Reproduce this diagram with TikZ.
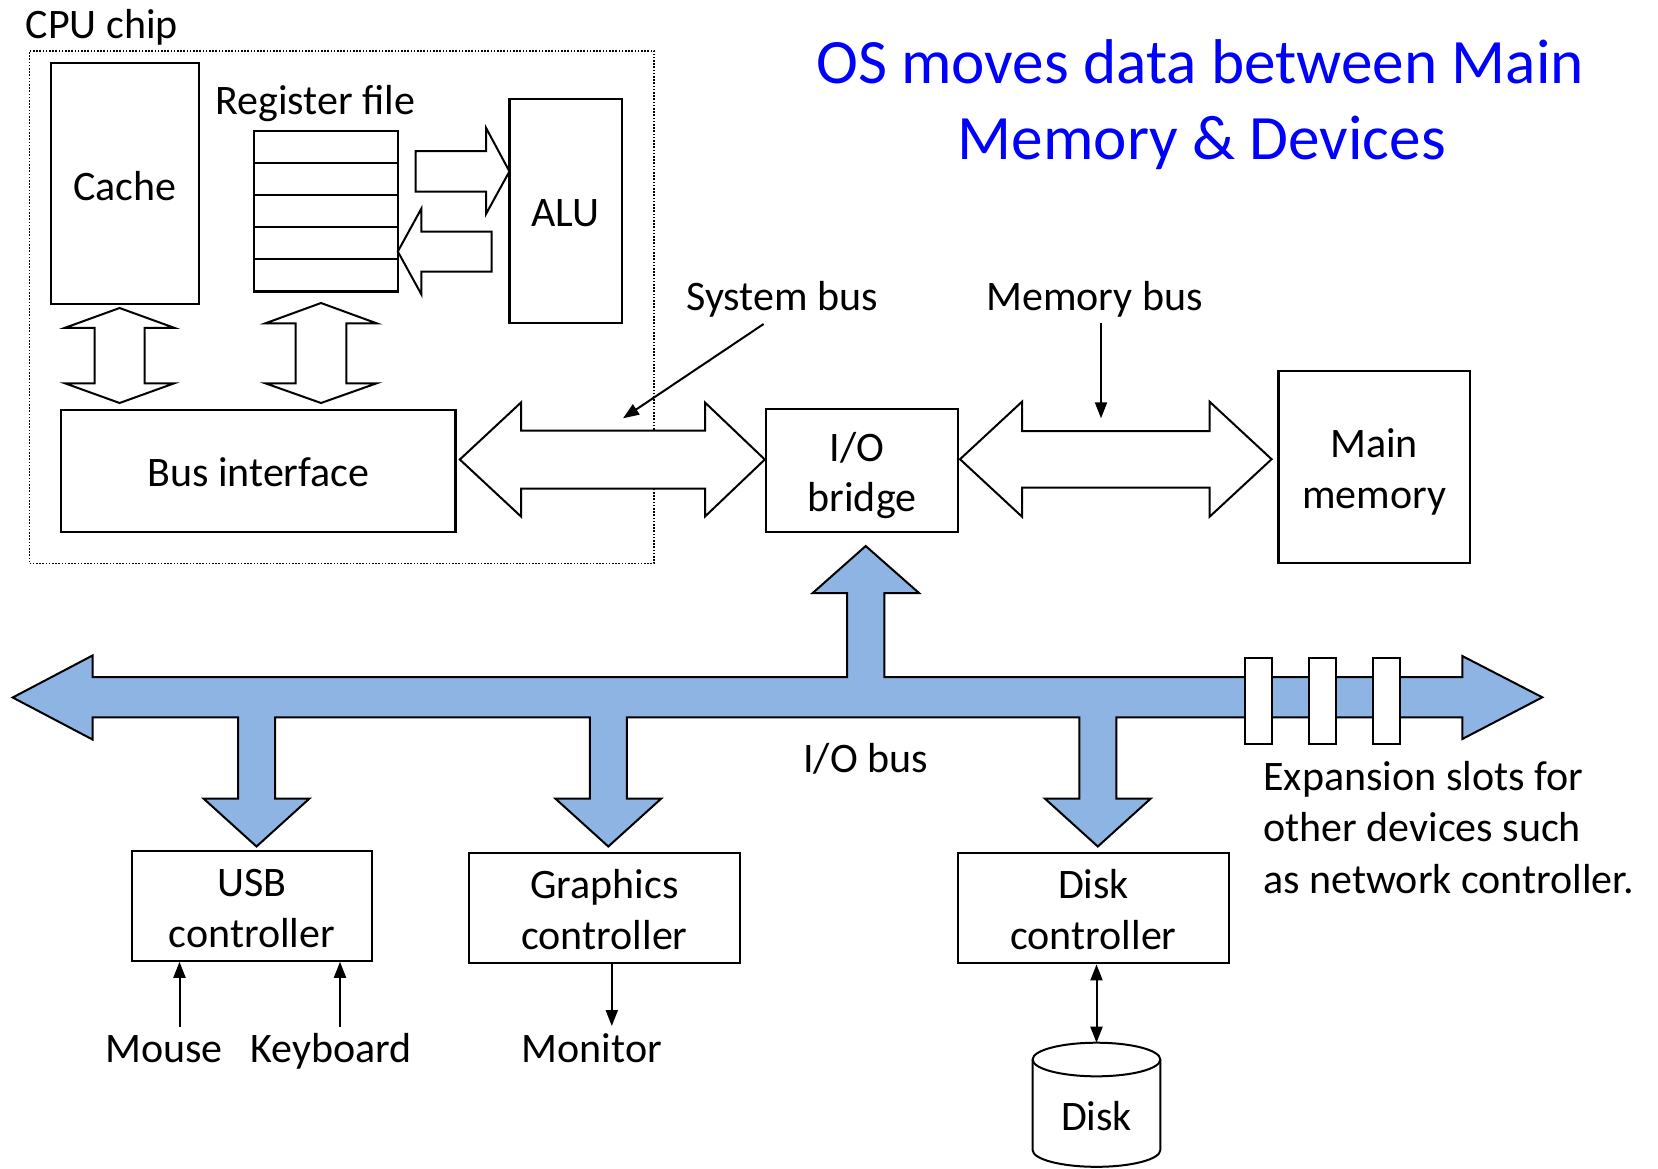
\documentclass[tikz,border=0pt]{standalone}
\usepackage{fontspec}
\setmainfont{Carlito}
\usetikzlibrary{arrows.meta,fit,calc}
\definecolor{busblue}{RGB}{141,180,226}
\definecolor{titleblue}{RGB}{0,0,255}
\tikzset{
  box/.style={draw, line width=1.1pt, inner sep=0pt, fill=white},
  chipframe/.style={draw, line width=0.9pt, dash pattern=on 0.8pt off 0.8pt, inner sep=0pt},
  lbl/.style={inner sep=0pt, anchor=base, font=\fontsize{21}{25.5}\selectfont},
  titletext/.style={inner sep=0pt, anchor=base, text=titleblue, font=\fontsize{31.6}{38.3}\selectfont},
  blockarrow/.style={draw, line width=1pt, fill=white, line join=miter},
  iobus/.style={draw, line width=1pt, fill=busblue, line join=miter},
  ptr/.style={line width=1pt, -{Triangle[length=8pt,width=6pt]}},
  ptrboth/.style={line width=1pt, {Triangle[length=8pt,width=6pt]}-{Triangle[length=8pt,width=6pt]}},
}
\begin{document}
\begin{tikzpicture}[x=0.5pt,y=-0.5pt]
\useasboundingbox[fill=white] (0,0) rectangle (1658,1168);

% ---- title ----
\node[titletext] (title1) at (1200,83) {OS moves data between Main};
\node[titletext] (title2) at (1201.8,159.5) {Memory \& Devices};

% ---- CPU chip ----
\node[chipframe, fit={(29.5,50.7) (654,563.5)}] (cpu) {};
\node[lbl, anchor=base west] (cpulbl) at (25.4,38) {CPU chip};

\node[box, fit={(51.3,63) (198.7,303.7)}] (cache) {};
\node[lbl] (cachelbl) at (125,200) {Cache};

\node[box, fit={(253.6,130.7) (397.8,291.5)}] (regfile) {};
\foreach \ry in {162.9,195,227.2,259.3}
  \draw[line width=1.1pt] (253.6,\ry) -- (397.8,\ry);
\node[lbl, anchor=base west] (reglbl) at (215,114.5) {Register file};

\node[box, fit={(509.4,98.9) (621.9,323.3)}] (alu) {};
\node[lbl] (alulbl) at (565.6,226.5) {ALU};

\node[box, fit={(61.2,409.6) (455.4,532.2)}] (busif) {};
\node[lbl] (busiflbl) at (258.3,486.5) {Bus interface};

% register file <-> ALU
\draw[blockarrow] (415.6,151) -- (486,151) -- (486,127.8) -- (509.4,171.4)
  -- (486,214) -- (486,191.5) -- (415.6,191.5) -- cycle;
\draw[blockarrow] (491.5,231.5) -- (421.4,231.5) -- (421.4,208.5) -- (397.8,251.5)
  -- (421.4,294.4) -- (421.4,271.5) -- (491.5,271.5) -- cycle;

% cache / register file <-> bus interface
\draw[blockarrow] (119.6,308) -- (174.2,327.8) -- (144.6,327.8) -- (144.6,383.3)
  -- (174.2,383.3) -- (119.6,403) -- (65,383.3) -- (94.6,383.3) -- (94.6,327.8)
  -- (65,327.8) -- cycle;
\draw[blockarrow] (321,303) -- (376.6,323.3) -- (346.3,323.3) -- (346.3,383.3)
  -- (376.6,383.3) -- (321,403) -- (265.4,383.3) -- (295.7,383.3) -- (295.7,323.3)
  -- (265.4,323.3) -- cycle;

% ---- bridge and memory ----
\node[box, fit={(766,409.3) (957.6,531.7)}] (bridge) {};
\node[lbl] (bridgelbl1) at (857,461) {I/O};
\node[lbl] (bridgelbl2) at (862,511) {bridge};

\node[box, fit={(1278.5,370.7) (1469.7,563.3)}] (mainmem) {};
\node[lbl] (memlbl1) at (1374,457) {Main};
\node[lbl] (memlbl2) at (1374,508.5) {memory};

% system bus
\draw[blockarrow] (459.8,459.5) -- (521,402.5) -- (521,430.5) -- (705,430.5)
  -- (705,402.5) -- (764.8,459.5) -- (705,516.5) -- (705,488.5) -- (521,488.5)
  -- (521,516.5) -- cycle;
% memory bus
\draw[blockarrow] (960,459.2) -- (1022,401.7) -- (1022,431) -- (1209.6,431)
  -- (1209.6,401.7) -- (1271.6,459.2) -- (1209.6,516.7) -- (1209.6,487.7)
  -- (1022,487.7) -- (1022,516.7) -- cycle;

\node[lbl, anchor=base west] (sysbuslbl) at (686,310) {System bus};
\node[lbl, anchor=base west] (membuslbl) at (986,310) {Memory bus};
\coordinate (sysbus-from) at (763.6,324);
\coordinate (sysbus-to) at (623,418.3);
\draw[ptr] (sysbus-from) -- (sysbus-to);
\coordinate (membus-from) at (1101,323);
\coordinate (membus-to) at (1101,418.3);
\draw[ptr] (membus-from) -- (membus-to);

% ---- I/O bus ----
\draw[iobus] (12.7,697.5) -- (92.5,655.5) -- (92.5,677)
  -- (847,677) -- (847,593) -- (812.7,593) -- (865.7,546) -- (919,593) -- (884.3,593) -- (884.3,677)
  -- (1462.3,677) -- (1462.3,656) -- (1542.3,697.3) -- (1462.3,739) -- (1462.3,717.3)
  -- (1116.3,717.3) -- (1116.3,798.5) -- (1150.8,798.5) -- (1097.8,846.5) -- (1044.8,798.5) -- (1079.3,798.5) -- (1079.3,717.3)
  -- (626.8,717.3) -- (626.8,798.5) -- (661.3,798.5) -- (608.3,846.5) -- (555.3,798.5) -- (589.8,798.5) -- (589.8,717.3)
  -- (275,717.3) -- (275,798.5) -- (309.5,798.5) -- (256.5,846.5) -- (203.5,798.5) -- (238,798.5) -- (238,717.3)
  -- (92.5,717.3) -- (92.5,739.5) -- cycle;

% expansion slots
\foreach \sx in {1245,1309,1373}
  \draw[line width=1pt, fill=white] (\sx,658.3) rectangle ++(27.3,86);

\node[lbl, anchor=base west] (iobuslbl) at (803,772) {I/O bus};
\node[lbl, anchor=base west] (explbl1) at (1263,790) {Expansion slots for};
\node[lbl, anchor=base west] (explbl2) at (1263,841.7) {other devices such};
\node[lbl, anchor=base west] (explbl3) at (1263,893.4) {as network controller.};

% ---- controllers ----
\node[box, fit={(132,851) (372.3,960.7)}] (usb) {};
\node[lbl] (usblbl1) at (252,896) {USB};
\node[lbl] (usblbl2) at (252,947) {controller};

\node[box, fit={(468.7,853.3) (740.3,963.3)}] (gfx) {};
\node[lbl] (gfxlbl1) at (604.5,898) {Graphics};
\node[lbl] (gfxlbl2) at (604.5,949.5) {controller};

\node[box, fit={(957.6,853.3) (1229.2,963.3)}] (diskctl) {};
\node[lbl] (disklbl1) at (1093.5,898) {Disk};
\node[lbl] (disklbl2) at (1093.5,949.5) {controller};

% ---- devices ----
\node[lbl] (mouse) at (164,1062) {Mouse};
\node[lbl] (keyboard) at (331,1062) {Keyboard};
\node[lbl] (monitor) at (592,1062) {Monitor};

\coordinate (mouse-out) at (179.5,1027);
\coordinate (kbd-out) at (340,1027);
\coordinate (mon-in) at (611.8,1026);
\draw[ptr] (mouse-out) -- (mouse-out |- usb.south);
\draw[ptr] (kbd-out) -- (kbd-out |- usb.south);
\draw[ptr] (mon-in |- gfx.south) -- (mon-in);

% disk drawn as a cylinder
\draw[line width=1pt, fill=white] (1032.6,1059.5) -- (1032.6,1150)
  arc[start angle=180, end angle=0, x radius=63.85, y radius=16.8] -- (1160.3,1059.5);
\draw[line width=1pt, fill=white] (1096.45,1059.5) ellipse [x radius=63.85, y radius=16.8];
\coordinate (disk-top) at (1096.5,1042.7);
\node[lbl] (disk) at (1096.5,1130) {Disk};
\draw[ptrboth] (disk-top |- diskctl.south) -- (disk-top);
\end{tikzpicture}
\end{document}
